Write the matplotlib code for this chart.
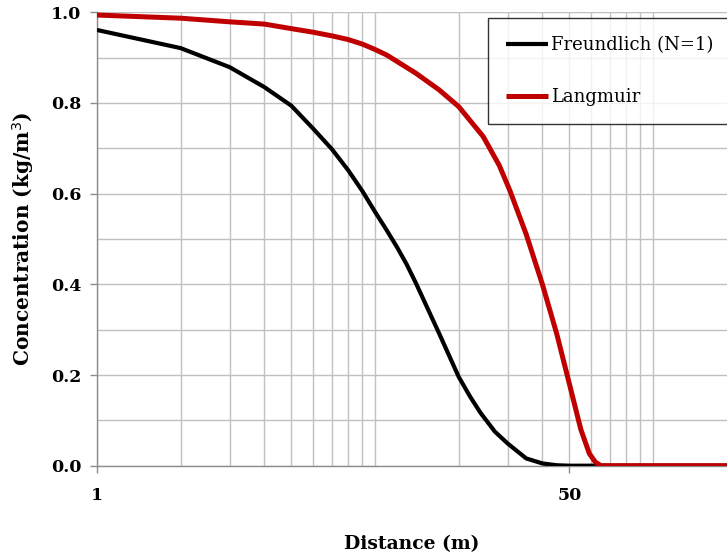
import matplotlib
matplotlib.use("Agg")
import matplotlib.pyplot as plt
from matplotlib.ticker import FixedLocator, NullFormatter, FixedFormatter

# breakthrough profiles, concentration vs distance
freundlich_x = [1, 2, 3, 4, 5, 6, 7, 8, 9, 10, 11, 12, 13, 14, 17, 20, 22, 24, 27, 30,
                35, 40, 45, 50, 200]
freundlich_y = [0.961, 0.921, 0.879, 0.835, 0.794, 0.743, 0.698, 0.652, 0.606, 0.560,
                0.520, 0.482, 0.444, 0.404, 0.292, 0.196, 0.152, 0.116, 0.075, 0.049,
                0.016, 0.005, 0.001, 0.0, 0.0]

langmuir_x = [1, 2, 3, 4, 5, 6, 7, 8, 9, 10, 11, 14, 17, 20, 24.5, 28, 30.6, 35, 40, 45,
              50, 55, 59, 62, 65, 200]
langmuir_y = [0.994, 0.987, 0.979, 0.974, 0.964, 0.956, 0.948, 0.940, 0.930, 0.918,
              0.906, 0.866, 0.829, 0.792, 0.726, 0.662, 0.606, 0.510, 0.400, 0.292,
              0.181, 0.080, 0.027, 0.008, 0.0, 0.0]

x_major = [1, 50]
x_major_labels = ["1", "50"]
x_minor = [2, 3, 4, 5, 6, 7, 8, 9, 10, 20, 30, 40, 60, 70, 80, 90, 100]

serif = "DejaVu Serif"
grid_col = "#c0c0c0"
axis_col = "#8c8c8c"

fig = plt.figure(figsize=(7.27, 5.59), dpi=100)
# axes runs past the right edge of the figure
ax = fig.add_axes([97 / 727, 1 - 465.7 / 559, (736.7 - 97) / 727, 453.4 / 559])

ax.plot(freundlich_x, freundlich_y, color="black", lw=3.0, label="Freundlich (N=1)",
        solid_capstyle="butt", solid_joinstyle="round", zorder=3)
ax.plot(langmuir_x, langmuir_y, color="#c00000", lw=3.6, label="Langmuir",
        solid_capstyle="butt", solid_joinstyle="round", zorder=4)

ax.set_xscale("log")
ax.set_xlim(1, 200)
ax.set_ylim(0, 1.0)

ax.xaxis.set_major_locator(FixedLocator(x_major))
ax.xaxis.set_major_formatter(FixedFormatter(x_major_labels))
ax.xaxis.set_minor_locator(FixedLocator(x_minor))
ax.xaxis.set_minor_formatter(NullFormatter())
ax.yaxis.set_major_locator(FixedLocator([0, 0.2, 0.4, 0.6, 0.8, 1.0]))
ax.yaxis.set_minor_locator(FixedLocator([0.1, 0.3, 0.5, 0.7, 0.9]))
ax.set_yticklabels(["0.0", "0.2", "0.4", "0.6", "0.8", "1.0"])

ax.grid(True, which="both", color=grid_col, lw=1.0, zorder=0)
ax.set_axisbelow(True)

for s in ["top", "right"]:
    ax.spines[s].set_visible(False)
for s in ["left", "bottom"]:
    ax.spines[s].set_color(axis_col)
    ax.spines[s].set_linewidth(1.0)

ax.tick_params(which="major", length=5, width=1, color=axis_col, direction="out")
ax.tick_params(which="minor", length=0)
ax.tick_params(axis="y", pad=6)
ax.tick_params(axis="x", pad=10)
for lab in ax.get_yticklabels() + ax.get_xticklabels():
    lab.set_fontfamily(serif)
    lab.set_fontweight("bold")
    lab.set_fontsize(12.5)

ax.set_xlabel("Distance (m)", fontfamily=serif, fontweight="bold", fontsize=13.5)
ax.xaxis.set_label_coords((412 - 97) / 639.7, -(535 - 465.7) / 453.4)
ax.set_ylabel("Concentration (kg/m$^3$)", fontfamily=serif, fontweight="bold",
              fontsize=14.5)
ax.yaxis.set_label_coords(-(97 - 36) / 639.7, 0.5)

leg = ax.legend(loc="upper left", bbox_to_anchor=((488 - 97) / 639.7, (465.7 - 18) / 453.4),
                frameon=True, fancybox=False, edgecolor="black",
                prop={"family": serif, "size": 13}, handlelength=2.3,
                handletextpad=0.2, labelspacing=1.9, borderpad=1.0,
                borderaxespad=0)
leg.get_frame().set_linewidth(1.0)
leg.set_zorder(5)

fig.savefig("out.png", dpi=100)
